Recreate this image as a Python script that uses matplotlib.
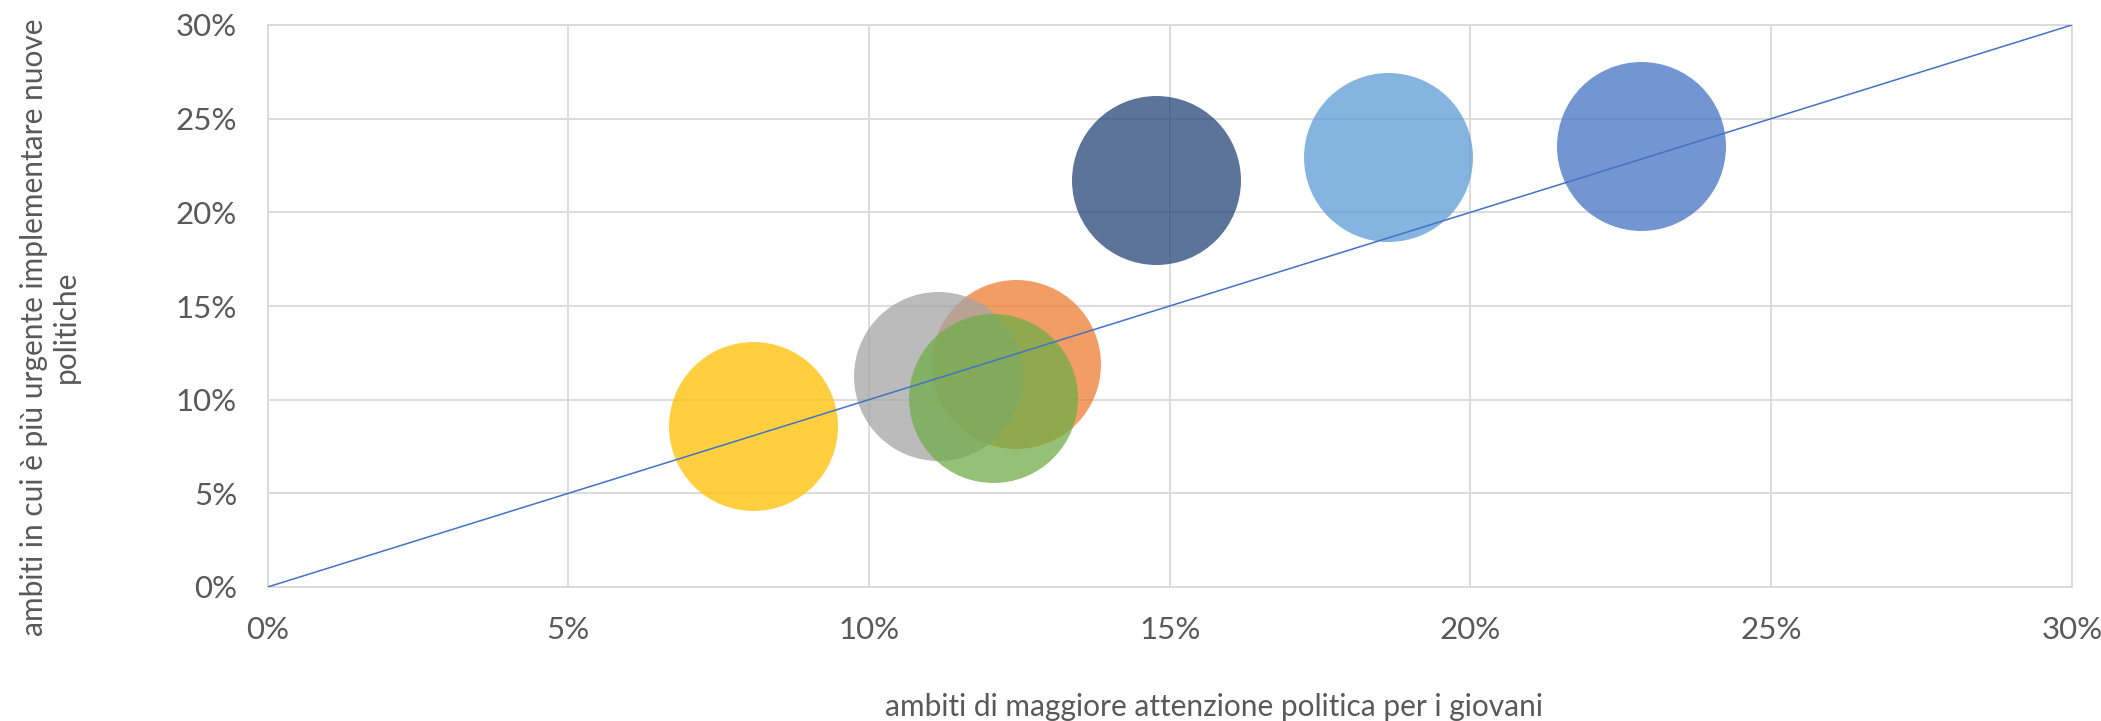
import matplotlib
matplotlib.use('Agg')
import matplotlib.pyplot as plt
from matplotlib.ticker import PercentFormatter

# dati (quote in percentuale)
attenzione = [8.07, 12.44, 11.15, 12.07, 14.78, 18.63, 22.83]
urgenza = [8.61, 11.89, 11.25, 10.11, 21.74, 22.93, 23.53]
colori = ['#FFC000', '#ED7D31', '#A5A5A5', '#70AD47', '#264478', '#5B9BD5', '#4472C4']
diagonale = [0, 30]
ticks = [0, 5, 10, 15, 20, 25, 30]

plt.rcParams['font.family'] = ['Lato', 'DejaVu Sans']
grigio_testo = '#595959'
grigio_griglia = '#D9D9D9'

fig = plt.figure(figsize=(21.01, 7.21), dpi=100)
ax = fig.add_axes([267.6 / 2101, 1 - 587 / 721, (2071.8 - 267.6) / 2101, (587 - 25) / 721])

for x, y, c in zip(attenzione, urgenza, colori):
    ax.scatter(x, y, s=14800, color=c, alpha=0.75, linewidths=0, zorder=2)

ax.plot(diagonale, diagonale, color='#4472C4', linewidth=1.1, zorder=3)

ax.set_xlim(0, 30)
ax.set_ylim(0, 30)
ax.set_xticks(ticks)
ax.set_yticks(ticks)
ax.xaxis.set_major_formatter(PercentFormatter(decimals=0))
ax.yaxis.set_major_formatter(PercentFormatter(decimals=0))
ax.tick_params(length=0, labelsize=22.5, labelcolor=grigio_testo)
ax.tick_params(axis='y', pad=22)
ax.tick_params(axis='x', pad=21)
ax.grid(True, color=grigio_griglia, linewidth=1.3, zorder=0)
ax.set_axisbelow(True)
for sp in ax.spines.values():
    sp.set_color(grigio_griglia)
    sp.set_linewidth(1.3)

fig.text(1214 / 2101, 1 - 707 / 721, 'ambiti di maggiore attenzione politica per i giovani',
         ha='center', va='center', fontsize=21.5, color=grigio_testo)
fig.text(50 / 2101, 1 - 327 / 721, 'ambiti in cui è più urgente implementare nuove\npolitiche',
         ha='center', va='center', rotation=90, fontsize=21.5, color=grigio_testo,
         multialignment='center', linespacing=1.2)

fig.savefig('out.png', dpi=100)
